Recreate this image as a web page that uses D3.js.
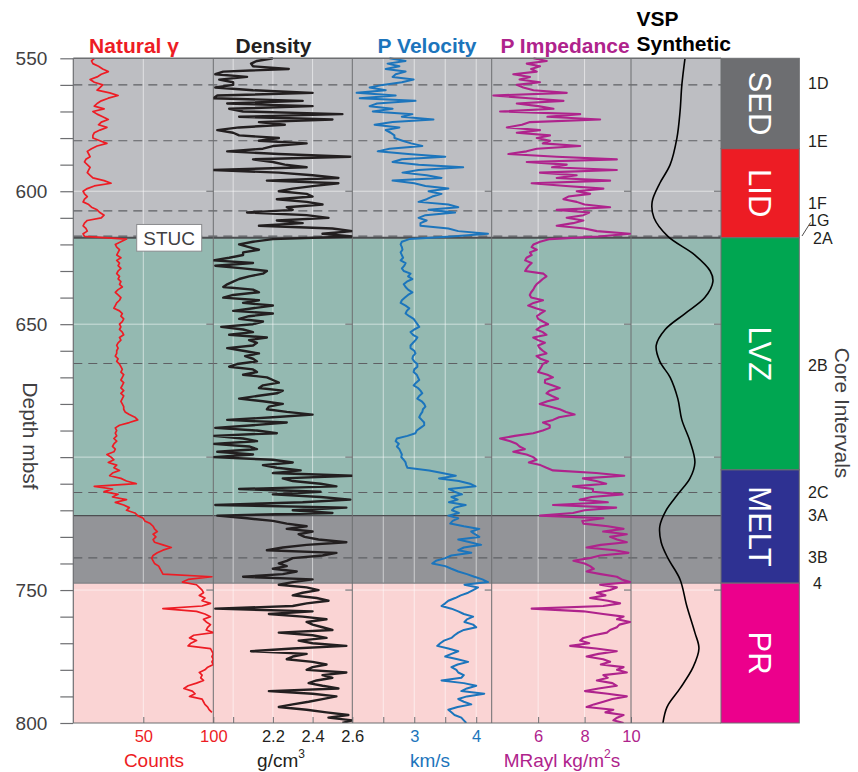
<!DOCTYPE html>
<html>
<head>
<meta charset="utf-8">
<script src="https://cdn.jsdelivr.net/npm/d3@7"></script>
<style>
body { margin: 0; background: #fff; }
svg { display: block; font-family: "Liberation Sans", Arial, sans-serif; }
</style>
</head>
<body>
<div id="chart"></div>
<script>
// logs are sampled every metre starting at 550 mbsf
const depthStart = 550;
const depthStep = 1;

const gammaCounts = [
    15,13,14,18,21,25,20,17,12,15, 21,19,17,26,32,25,20,17,15,22,
    14,17,21,25,20,18,24,19,15,14, 14,19,24,17,13,10,11,12,9,8,
    10,12,11,10,12,14,22,27,15,10, 7,8,10,8,7,11,13,17,19,22,
    20,10,8,7,9,10,7,8,38,34, 30,31,33,32,31,34,31,33,32,34,
    32,31,33,32,34,33,35,32,30,32, 34,33,31,30,29,33,35,34,36,35,
    33,34,33,35,36,33,34,32,31,32, 31,31,30,32,31,33,34,35,34,36,
    35,34,36,35,34,36,34,36,35,34, 35,36,36,37,40,44,46,40,33,30,
    31,30,31,29,31,29,28,30,29,24, 27,29,25,31,29,33,28,26,34,38,
    45,15,28,22,32,28,38,30,36,40, 38,44,46,50,51,55,57,58,60,57,
    59,57,58,64,70,64,60,57,56,57, 58,61,62,63,64,99,82,78,88,90,
    92,93,90,94,92,98,92,64,88,94, 98,93,95,98,96,95,100,86,83,88,
    84,82,98,99,100,99,100,99,100,96, 94,90,92,91,93,88,82,79,85,87,
    83,92,93,94,96,97,99
];

const densityValues = [
    2.20,2.12,2.09,2.10,2.28,1.95,1.91,2.07,1.93,2.00,
    2.00,1.91,2.10,2.40,1.92,1.90,2.35,1.97,2.40,1.98,
    2.05,2.55,2.03,2.50,2.13,2.26,2.03,1.92,2.00,2.03,
    2.23,2.13,2.37,2.20,2.15,1.97,2.23,2.59,2.10,2.20,
    2.26,2.37,1.90,2.23,2.40,2.53,2.17,2.53,2.41,2.30,
    2.23,2.37,2.40,2.22,2.37,2.45,2.27,2.30,2.07,2.37,
    2.48,2.22,2.35,2.13,2.50,2.60,2.45,2.60,2.20,2.10,
    2.03,2.08,2.13,2.05,2.05,1.98,1.90,2.10,1.91,2.05,
    2.17,2.15,2.08,2.03,2.00,1.97,1.95,2.10,2.13,2.00,
    1.95,2.13,2.05,2.20,2.10,2.00,2.20,2.08,2.03,2.15,
    2.10,1.94,2.05,2.10,1.98,2.17,2.08,2.12,2.10,1.97,
    2.05,2.13,2.06,2.10,2.12,2.02,1.98,2.10,2.12,2.05,
    2.17,2.20,2.23,2.15,2.13,2.25,2.22,2.12,2.03,2.15,
    2.25,2.18,2.17,2.27,2.40,2.20,1.97,2.27,2.10,1.91,
    2.12,2.22,1.90,2.05,2.12,1.90,2.08,2.12,1.92,2.10,
    1.90,2.20,2.30,2.15,2.22,2.34,2.20,2.60,2.25,2.30,
    2.44,2.52,2.03,2.44,2.20,2.44,2.59,2.35,1.91,2.57,
    2.30,2.50,1.92,2.07,2.20,2.27,2.37,2.27,2.40,2.33,
    2.36,2.43,2.57,2.37,2.25,2.17,2.52,2.45,2.30,2.27,
    2.23,2.27,2.20,2.32,2.25,2.05,2.40,2.30,2.23,2.37,
    2.43,2.35,2.30,2.42,2.48,2.37,2.30,1.91,2.40,2.18,
    2.35,2.47,2.37,2.40,2.45,2.50,2.23,2.40,2.47,2.33,
    2.40,2.57,2.30,2.09,2.37,2.30,2.27,2.40,2.47,2.40,
    2.37,2.57,2.45,2.50,2.42,2.38,2.45,2.53,2.18,2.40,
    2.52,2.45,2.38,2.30,2.23,2.37,2.47,2.58,2.48,2.60,
    2.55
];

const velocityValues = [
    2.60,2.86,2.57,2.76,2.54,2.86,2.70,2.65,2.99,2.80,
    2.49,2.28,2.54,2.07,2.70,2.12,3.02,2.40,2.28,2.65,
    2.33,2.97,2.80,3.31,2.65,2.36,2.76,2.54,2.62,2.68,
    2.68,2.81,2.95,3.13,2.60,2.41,2.90,3.50,2.80,2.65,
    3.07,3.79,3.07,2.81,3.20,3.44,2.65,3.00,3.18,3.55,
    3.23,3.44,3.29,3.20,3.07,3.55,3.71,3.23,3.66,3.18,
    3.07,3.20,3.10,3.10,3.55,3.71,4.19,3.60,2.92,2.80,
    2.78,2.80,2.81,2.78,2.80,2.82,2.78,2.86,2.84,2.80,
    2.83,2.94,2.90,2.97,2.88,2.83,2.86,2.90,2.97,2.90,
    2.85,2.80,2.78,2.86,2.92,2.88,2.86,2.92,2.99,3.02,
    3.05,3.08,3.00,2.94,2.98,3.05,3.02,2.98,2.94,2.94,
    3.00,3.02,2.98,2.97,3.00,3.05,3.05,3.00,2.99,3.04,
    3.06,3.08,3.03,2.99,3.06,3.10,3.13,3.08,3.05,3.12,
    3.16,3.18,3.14,3.13,3.10,3.08,3.12,3.16,3.16,3.10,
    3.04,3.02,2.89,2.72,2.70,2.75,2.72,2.76,2.78,2.80,
    2.79,2.83,2.86,2.87,2.89,3.24,3.45,3.67,3.40,3.72,
    3.90,3.99,3.56,3.65,3.77,3.60,3.70,3.56,3.83,3.65,
    3.61,3.72,3.55,3.71,3.62,3.58,3.80,4.05,3.92,3.98,
    4.05,3.71,3.90,4.08,3.80,3.71,3.92,3.60,3.50,3.35,
    3.29,3.50,3.60,3.71,3.85,3.97,4.10,4.19,3.81,4.03,
    3.95,3.87,3.75,3.66,3.55,3.50,3.44,3.60,3.71,3.80,
    3.95,3.85,3.81,3.95,4.00,3.80,3.71,3.65,3.60,3.48,
    3.42,3.37,3.55,3.71,3.60,3.50,3.70,3.87,3.70,3.60,
    3.68,3.71,3.80,3.76,3.44,3.80,4.00,3.85,3.76,4.13,
    3.85,3.71,3.80,3.92,3.70,3.55,3.60,3.65,3.76,3.80,
    3.84
];

const impedanceValues = [
    5.80,6.37,5.51,6.08,5.70,5.94,4.93,5.65,5.20,6.08,
    5.08,5.36,5.80,7.23,4.07,5.60,7.09,5.08,6.00,6.66,
    4.36,7.81,6.40,8.67,5.65,5.30,4.65,6.08,5.08,6.51,
    5.94,6.51,6.20,7.81,5.94,5.50,4.72,6.80,9.39,5.51,
    7.23,6.60,9.39,6.08,7.66,6.80,9.10,5.72,7.20,8.81,
    7.66,8.24,7.30,7.09,7.66,8.00,9.10,6.80,8.20,7.95,
    7.23,7.95,7.50,6.80,8.00,8.53,9.96,8.60,6.51,6.08,
    5.80,5.72,5.94,5.65,5.72,5.50,5.44,5.72,5.60,5.51,
    5.44,6.23,6.36,6.20,6.07,5.93,5.85,5.79,5.70,5.64,
    5.70,6.21,5.80,5.57,5.90,6.29,6.10,5.95,6.00,6.20,
    6.43,6.10,5.93,6.20,6.36,5.79,6.00,6.29,6.00,6.07,
    6.20,6.36,5.93,6.10,6.43,6.20,6.14,6.07,6.00,6.40,
    6.64,6.30,6.29,6.60,6.93,6.50,6.36,6.60,6.86,6.40,
    6.07,6.50,6.93,7.20,7.57,6.90,6.64,6.21,6.50,6.50,
    6.20,5.79,5.00,4.36,4.80,5.07,5.20,5.43,4.93,5.50,
    5.79,5.93,5.60,6.10,6.36,6.64,8.50,9.71,7.93,8.50,
    8.93,7.50,8.36,8.36,9.64,8.30,7.79,9.00,6.64,9.36,
    8.00,7.50,6.08,8.81,7.90,7.95,9.00,9.68,8.80,9.82,
    9.10,9.40,9.82,8.70,8.09,9.30,9.89,8.67,8.20,7.52,
    8.00,8.24,8.40,8.09,8.70,9.39,9.60,9.96,8.67,9.39,
    9.10,8.53,8.90,8.24,9.00,9.53,8.80,5.72,7.95,8.80,
    9.68,9.40,9.96,9.50,9.39,9.10,8.96,8.40,7.95,7.81,
    8.20,7.38,8.50,9.39,8.60,8.09,8.80,9.10,8.70,9.68,
    9.40,9.82,8.81,9.00,8.53,9.20,9.39,8.60,8.02,9.00,
    9.82,9.20,8.81,8.40,8.09,9.24,8.90,9.68,9.40,9.24,
    9.68
];

// VSP synthetic trace (relative amplitude)
const vspDepths = [550,560,570,580,590,597,604,610,617,624,630,634,640,646,652,658,664,670,678,686,694,702,708,714,720,726,732,738,746,756,766,772,779,787,794,800];
const vspAmplitude = [0.20,0.13,0.09,0.02,-0.13,-0.36,-0.53,-0.49,-0.18,0.42,0.76,0.82,0.64,0.20,-0.24,-0.44,-0.36,-0.13,0.04,0.13,0.31,0.42,0.31,0.04,-0.22,-0.36,-0.33,-0.18,0.09,0.24,0.42,0.51,0.38,0.09,-0.20,-0.29];

// background zones
const zoneTops = [550, 617.5, 722, 747.4];
const zoneBases = [617.5, 722, 747.4, 800];
const zoneFills = ["#bdbec2", "#94b9b1", "#939498", "#fad4d4"];

// lithologic units
const unitNames = ["SED", "LID", "LVZ", "MELT", "PR"];
const unitTops = [550, 584, 617.5, 704.8, 747.4];
const unitBases = [584, 617.5, 704.8, 747.4, 800];
const unitFills = ["#6d6e71", "#ed1c24", "#00a651", "#2e3192", "#ec008c"];

// core intervals
const intervalNames = ["1D", "1E", "1F", "1G", "2A", "2B", "2C", "3A", "3B", "4"];
const intervalLabelDepths = [559.3, 581.1, 604.4, 610.8, 617.6, 665.3, 713.1, 721.8, 737.6, 747.4];
const intervalLineDepths = [560, 581, 607.4, 616.9, 664.8, 713.3, 737.9];

const depthTicks = [550,560,570,580,590,600,610,620,630,640,650,660,670,680,690,700,710,720,730,740,750,760,770,780,790,800];
const depthLabels = [550, 600, 650, 750, 800];
const depthGrid = [600, 650, 700, 750];

const W = 858, H = 772;
const plotTop = 58.3, plotBottom = 723, plotLeft = 73.3;
const coreLeft = 721, coreRight = 799.3;

const svg = d3.select("#chart").append("svg")
    .attr("width", W)
    .attr("height", H);

const y = d3.scaleLinear().domain([550, 800]).range([plotTop, plotBottom]);
const depthAt = i => depthStart + i * depthStep;

const panels = [
    { id: "gamma", title: "Natural \u03b3", color: "#ed1c24", x: d3.scaleLinear([0, 100], [73.3, 213.3]),
      data: gammaCounts, grid: [50], ticks: [50, 100], labels: [50, 100], width: 1.7 },
    { id: "dens", title: "Density", color: "#231f20", x: d3.scaleLinear([1.9, 2.6], [213.3, 352.3]),
      data: densityValues, grid: [2.0, 2.2, 2.4], ticks: [2.0, 2.2, 2.4, 2.6], labels: [2.2, 2.4, 2.6], width: 2.4 },
    { id: "vel", title: "P Velocity", color: "#1c75bc", x: d3.scaleLinear([2, 4.25], [352.3, 491.7]),
      data: velocityValues, grid: [2.5, 3, 3.5, 4], ticks: [2.5, 3, 3.5, 4], labels: [3, 4], width: 2 },
    { id: "imp", title: "P Impedance", color: "#af238c", x: d3.scaleLinear([4, 10], [491.7, 631]),
      data: impedanceValues, grid: [6, 8], ticks: [6, 8, 10], labels: [6, 8, 10], width: 2.1 }
];
const xVsp = d3.scaleLinear([-1, 1], [631, 721]);
const borders = [213.3, 352.3, 491.7, 631, 721];

// zones
svg.append("g").selectAll("rect")
    .data(zoneTops)
    .join("rect")
    .attr("x", plotLeft)
    .attr("width", coreLeft - plotLeft)
    .attr("y", d => y(d))
    .attr("height", (d, i) => y(zoneBases[i]) - y(d))
    .attr("fill", (d, i) => zoneFills[i]);

// light grid
const grid = svg.append("g").attr("stroke", "#fff").attr("stroke-opacity", 0.55).attr("stroke-width", 1);
panels.forEach(p => {
    grid.selectAll(null)
        .data(p.grid)
        .join("line")
        .attr("x1", d => p.x(d)).attr("x2", d => p.x(d))
        .attr("y1", plotTop).attr("y2", plotBottom);
});
grid.selectAll(null)
    .data(depthGrid)
    .join("line")
    .attr("x1", plotLeft).attr("x2", coreLeft)
    .attr("y1", d => y(d)).attr("y2", d => y(d));

// short ticks by panel borders at grid depths
const stubs = svg.append("g").attr("stroke", "#77787b").attr("stroke-width", 1.2);
borders.forEach(bx => {
    stubs.selectAll(null)
        .data(depthGrid)
        .join("line")
        .attr("x1", bx - 7).attr("x2", bx)
        .attr("y1", d => y(d)).attr("y2", d => y(d));
});

// core interval dashed lines
svg.append("g").selectAll("line")
    .data(intervalLineDepths)
    .join("line")
    .attr("x1", plotLeft).attr("x2", coreLeft)
    .attr("y1", d => y(d)).attr("y2", d => y(d))
    .attr("stroke", "#5f6064")
    .attr("stroke-width", 1.1)
    .attr("stroke-dasharray", "9,6");

// zone boundaries
svg.append("g").selectAll("line")
    .data(zoneTops.slice(1))
    .join("line")
    .attr("x1", plotLeft).attr("x2", coreLeft)
    .attr("y1", d => y(d)).attr("y2", d => y(d))
    .attr("stroke", (d, i) => i === 2 ? "#808185" : "#4d4e51")
    .attr("stroke-width", (d, i) => i === 0 ? 1.8 : 1.2);

// panel separators
svg.append("g").selectAll("line")
    .data(borders.slice(0, 4))
    .join("line")
    .attr("x1", d => d).attr("x2", d => d)
    .attr("y1", plotTop).attr("y2", plotBottom)
    .attr("stroke", "#6d6e71")
    .attr("stroke-width", 1);

// curves
const defs = svg.append("defs");
panels.forEach(p => {
    const [x0, x1] = p.x.range();
    defs.append("clipPath").attr("id", "clip-" + p.id)
        .append("rect").attr("x", x0).attr("y", plotTop - 2).attr("width", x1 - x0).attr("height", plotBottom - plotTop + 2);

    const line = d3.line()
        .defined(d => d != null)
        .x(d => p.x(d))
        .y((d, i) => y(depthAt(i)));

    svg.append("path")
        .datum(p.data)
        .attr("clip-path", `url(#clip-${p.id})`)
        .attr("fill", "none")
        .attr("stroke", p.color)
        .attr("stroke-width", p.width)
        .attr("stroke-linejoin", "round")
        .attr("d", line);
});

const vspLine = d3.line()
    .x(d => xVsp(d))
    .y((d, i) => y(vspDepths[i]))
    .curve(d3.curveCatmullRom);
svg.append("path")
    .datum(vspAmplitude)
    .attr("fill", "none")
    .attr("stroke", "#000")
    .attr("stroke-width", 1.6)
    .attr("d", vspLine);

// frame
const frame = svg.append("g").attr("stroke", "#6d6e71").attr("fill", "none");
frame.append("line").attr("x1", plotLeft).attr("x2", coreLeft).attr("y1", plotTop).attr("y2", plotTop).attr("stroke-width", 1.4);
frame.append("line").attr("x1", plotLeft).attr("x2", plotLeft).attr("y1", plotTop).attr("y2", plotBottom).attr("stroke-width", 1.2);
frame.append("line").attr("x1", plotLeft).attr("x2", coreLeft).attr("y1", plotBottom).attr("y2", plotBottom).attr("stroke-width", 1.2);

// depth axis
const yAxis = svg.append("g")
    .attr("transform", `translate(${plotLeft},0)`)
    .call(d3.axisLeft(y)
        .tickValues(depthTicks)
        .tickSize(13)
        .tickPadding(13)
        .tickFormat(d => depthLabels.includes(d) ? d : ""));
yAxis.select(".domain").remove();
yAxis.selectAll(".tick line").attr("stroke", "#6d6e71").attr("stroke-width", 1.2);
yAxis.selectAll(".tick text")
    .attr("fill", "#414042")
    .style("font-size", "19px")
    .style("font-family", "'Liberation Sans', Arial, sans-serif");

// bottom axes
panels.forEach(p => {
    const ax = svg.append("g")
        .attr("transform", `translate(0,${plotBottom})`)
        .call(d3.axisBottom(p.x)
            .tickValues(p.ticks)
            .tickSize(-6)
            .tickPadding(7)
            .tickFormat(d => p.labels.includes(d) ? d3.format("~g")(d) : ""));
    ax.select(".domain").remove();
    ax.selectAll(".tick line").attr("stroke", "#6d6e71");
    ax.selectAll(".tick text")
        .attr("fill", p.color)
        .style("font-size", "16.5px")
        .style("font-family", "'Liberation Sans', Arial, sans-serif");
});

// titles
const titleX = [134, 273.5, 427, 565];
panels.forEach((p, i) => {
    svg.append("text")
        .attr("x", titleX[i]).attr("y", 53)
        .attr("text-anchor", "middle")
        .attr("fill", p.color)
        .style("font-size", "21px")
        .style("font-weight", "bold")
        .text(p.title);
});
svg.append("text").attr("x", 636.5).attr("y", 26)
    .style("font-size", "21px").style("font-weight", "bold").attr("fill", "#000").text("VSP");
svg.append("text").attr("x", 636.5).attr("y", 50.5)
    .style("font-size", "21px").style("font-weight", "bold").attr("fill", "#000").text("Synthetic");

// unit labels
const unitY = 767;
svg.append("text").attr("x", 154).attr("y", unitY).attr("text-anchor", "middle")
    .attr("fill", "#ed1c24").style("font-size", "19px").text("Counts");
const dens = svg.append("text").attr("x", 281).attr("y", unitY).attr("text-anchor", "middle")
    .attr("fill", "#231f20").style("font-size", "19px");
dens.append("tspan").text("g/cm");
dens.append("tspan").attr("dy", -9).style("font-size", "12px").text("3");
svg.append("text").attr("x", 430).attr("y", unitY).attr("text-anchor", "middle")
    .attr("fill", "#1c75bc").style("font-size", "19px").text("km/s");
const imp = svg.append("text").attr("x", 562).attr("y", unitY).attr("text-anchor", "middle")
    .attr("fill", "#af238c").style("font-size", "19px");
imp.append("tspan").text("MRayl kg/m");
imp.append("tspan").attr("dy", -9).style("font-size", "12px").text("2");
imp.append("tspan").attr("dy", 9).text("s");

// STUC box
const stucY = y(617.5);
svg.append("rect").attr("x", 136.7).attr("y", stucY - 13.3).attr("width", 65).attr("height", 26.7)
    .attr("fill", "#fff").attr("stroke", "#8a8b8e").attr("stroke-width", 1);
svg.append("text").attr("x", 169.2).attr("y", stucY + 6.8).attr("text-anchor", "middle")
    .attr("fill", "#414042").style("font-size", "19px").text("STUC");

// core column
const core = svg.append("g");
core.selectAll("rect")
    .data(unitNames)
    .join("rect")
    .attr("x", coreLeft).attr("width", coreRight - coreLeft)
    .attr("y", (d, i) => y(unitTops[i]))
    .attr("height", (d, i) => y(unitBases[i]) - y(unitTops[i]))
    .attr("fill", (d, i) => unitFills[i])
    .attr("stroke", "#6d6e71")
    .attr("stroke-width", 1);
core.selectAll("text")
    .data(unitNames)
    .join("text")
    .attr("transform", (d, i) => `translate(${760},${(y(unitTops[i]) + y(unitBases[i])) / 2}) rotate(90)`)
    .attr("text-anchor", "middle")
    .attr("dy", "0.36em")
    .attr("fill", "#fff")
    .style("font-size", "31px")
    .text(d => d);

// core interval labels
const indented = ["2A", "4"];
svg.append("g").selectAll("text")
    .data(intervalNames)
    .join("text")
    .attr("x", d => indented.includes(d) ? 813 : 808)
    .attr("y", (d, i) => y(intervalLabelDepths[i]))
    .attr("dy", "0.36em")
    .attr("fill", "#231f20")
    .style("font-size", "16px")
    .text(d => d);
svg.append("line").attr("x1", 802).attr("y1", 236).attr("x2", 810.5).attr("y2", 222.5)
    .attr("stroke", "#231f20").attr("stroke-width", 0.8);

// rotated axis titles
svg.append("text")
    .attr("transform", "translate(31,436) rotate(90)")
    .attr("text-anchor", "middle").attr("dy", "0.36em")
    .attr("fill", "#414042").style("font-size", "21px")
    .text("Depth mbsf");
svg.append("text")
    .attr("transform", "translate(843,413) rotate(90)")
    .attr("text-anchor", "middle").attr("dy", "0.36em")
    .attr("fill", "#414042").style("font-size", "21px")
    .text("Core Intervals");
</script>
</body>
</html>
